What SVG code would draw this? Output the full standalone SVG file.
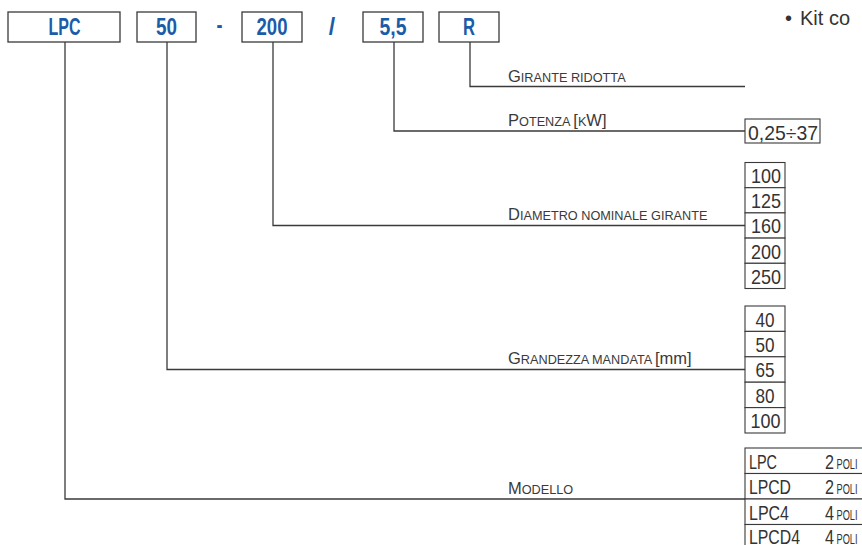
<svg xmlns="http://www.w3.org/2000/svg" width="862" height="545" viewBox="0 0 862 545">
<style>
.box{fill:#fff;stroke:#3a3a3a;stroke-width:1.3}
.code{font-family:"Liberation Sans",Arial,sans-serif;font-weight:bold;font-size:23px;fill:#1a5ca8;text-anchor:middle}
.sep{font-family:"Liberation Sans",Arial,sans-serif;font-weight:bold;font-size:23px;fill:#1a5ca8;text-anchor:middle}
.conn{fill:none;stroke:#3a3a3a;stroke-width:1.3}
.lbl{font-family:"Liberation Sans",Arial,sans-serif;font-size:16.5px;fill:#3a3a3a}
.sc{font-size:12.7px}
.cell{fill:#fff;stroke:#3a3a3a;stroke-width:1.1}
.val{font-family:"Liberation Sans",Arial,sans-serif;font-size:21px;fill:#333}
.poli{font-family:"Liberation Sans",Arial,sans-serif;font-size:14px;fill:#333}
.mid{text-anchor:middle}
.kit{font-family:"Liberation Sans",Arial,sans-serif;font-size:20px;fill:#333}
</style>
<g id="code-LPC"><rect class="box" x="8" y="12" width="112" height="30"/><text class="code" x="64.5" y="35" textLength="32" lengthAdjust="spacingAndGlyphs">LPC</text></g>
<g id="code-50"><rect class="box" x="137" y="12" width="59" height="30"/><text class="code" x="166.5" y="35" textLength="21" lengthAdjust="spacingAndGlyphs">50</text></g>
<text class="sep" x="219.5" y="33" textLength="6" lengthAdjust="spacingAndGlyphs">-</text>
<g id="code-200"><rect class="box" x="242" y="12" width="60" height="30"/><text class="code" x="272" y="35" textLength="31" lengthAdjust="spacingAndGlyphs">200</text></g>
<text class="sep" x="332" y="35">/</text>
<g id="code-55"><rect class="box" x="363" y="12" width="60" height="30"/><text class="code" x="393" y="35" textLength="27" lengthAdjust="spacingAndGlyphs">5,5</text></g>
<g id="code-R"><rect class="box" x="439" y="12" width="60" height="30"/><text class="code" x="469" y="35" textLength="12" lengthAdjust="spacingAndGlyphs">R</text></g>
<text class="kit" x="785" y="25">•<tspan x="800">Kit co</tspan></text>
<g id="connectors">
<path class="conn" d="M470 42V86.5H745"/>
<path class="conn" d="M394 42V131H745"/>
<path class="conn" d="M273 42V225.5H745"/>
<path class="conn" d="M167 42V369.5H745"/>
<path class="conn" d="M65 42V499H745"/>
</g>
<g id="label-girante"><text class="lbl" x="508" y="82">G<tspan class="sc">IRANTE RIDOTTA</tspan></text></g>
<g id="label-potenza"><text class="lbl" x="508" y="126">P<tspan class="sc">OTENZA </tspan>[<tspan class="sc">K</tspan>W]</text></g>
<g id="label-diametro"><text class="lbl" x="508" y="220">D<tspan class="sc">IAMETRO NOMINALE GIRANTE</tspan></text></g>
<g id="label-grandezza"><text class="lbl" x="508" y="364">G<tspan class="sc">RANDEZZA MANDATA </tspan>[mm]</text></g>
<g id="label-modello"><text class="lbl" x="508" y="494">M<tspan class="sc">ODELLO</tspan></text></g>
<g id="values-potenza"><rect class="cell" x="745" y="119" width="75" height="24"/><text class="val" x="748" y="140" textLength="70" lengthAdjust="spacingAndGlyphs">0,25÷37</text></g>
<g id="values-diametro">
<rect class="cell" x="745" y="162.5" width="40" height="25.2"/>
<rect class="cell" x="745" y="187.7" width="40" height="25.2"/>
<rect class="cell" x="745" y="212.9" width="40" height="25.2"/>
<rect class="cell" x="745" y="238.1" width="40" height="25.2"/>
<rect class="cell" x="745" y="263.3" width="40" height="25.2"/>
<text class="val mid" x="766" y="183" textLength="30" lengthAdjust="spacingAndGlyphs">100</text>
<text class="val mid" x="766" y="208.2" textLength="30" lengthAdjust="spacingAndGlyphs">125</text>
<text class="val mid" x="766" y="233.4" textLength="30" lengthAdjust="spacingAndGlyphs">160</text>
<text class="val mid" x="766" y="258.6" textLength="30" lengthAdjust="spacingAndGlyphs">200</text>
<text class="val mid" x="766" y="283.8" textLength="30" lengthAdjust="spacingAndGlyphs">250</text>
</g>
<g id="values-grandezza">
<rect class="cell" x="745" y="306" width="40" height="25.4"/>
<rect class="cell" x="745" y="331.4" width="40" height="25.4"/>
<rect class="cell" x="745" y="356.8" width="40" height="25.4"/>
<rect class="cell" x="745" y="382.2" width="40" height="25.4"/>
<rect class="cell" x="745" y="407.6" width="40" height="25.4"/>
<text class="val mid" x="765" y="326.5" textLength="19" lengthAdjust="spacingAndGlyphs">40</text>
<text class="val mid" x="765" y="351.9" textLength="19" lengthAdjust="spacingAndGlyphs">50</text>
<text class="val mid" x="765" y="377.3" textLength="19" lengthAdjust="spacingAndGlyphs">65</text>
<text class="val mid" x="765" y="402.7" textLength="19" lengthAdjust="spacingAndGlyphs">80</text>
<text class="val mid" x="765.5" y="428.1" textLength="30" lengthAdjust="spacingAndGlyphs">100</text>
</g>
<g id="values-modello">
<rect class="cell" x="745" y="448" width="130" height="25.5"/>
<rect class="cell" x="745" y="473.5" width="130" height="25.5"/>
<rect class="cell" x="745" y="499" width="130" height="25.5"/>
<rect class="cell" x="745" y="524.5" width="130" height="25.5"/>
<text class="val" x="749" y="468.5" textLength="28" lengthAdjust="spacingAndGlyphs">LPC</text>
<text class="val" x="749" y="494" textLength="42" lengthAdjust="spacingAndGlyphs">LPCD</text>
<text class="val" x="749" y="519.5" textLength="40" lengthAdjust="spacingAndGlyphs">LPC4</text>
<text class="val" x="749" y="544" textLength="51" lengthAdjust="spacingAndGlyphs">LPCD4</text>
<text class="val" x="825" y="468.5" textLength="9" lengthAdjust="spacingAndGlyphs">2</text>
<text class="val" x="825" y="494" textLength="9" lengthAdjust="spacingAndGlyphs">2</text>
<text class="val" x="825" y="519.5" textLength="9" lengthAdjust="spacingAndGlyphs">4</text>
<text class="val" x="825" y="544" textLength="9" lengthAdjust="spacingAndGlyphs">4</text>
<text class="poli" x="836.5" y="468.5" textLength="21" lengthAdjust="spacingAndGlyphs">POLI</text>
<text class="poli" x="836.5" y="494" textLength="21" lengthAdjust="spacingAndGlyphs">POLI</text>
<text class="poli" x="836.5" y="519.5" textLength="21" lengthAdjust="spacingAndGlyphs">POLI</text>
<text class="poli" x="836.5" y="544" textLength="21" lengthAdjust="spacingAndGlyphs">POLI</text>
</g>
</svg>
